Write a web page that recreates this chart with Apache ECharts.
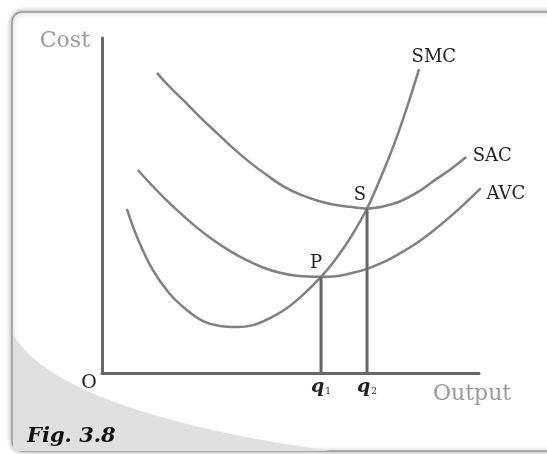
<!DOCTYPE html>
<html>
<head>
<meta charset="utf-8">
<script src="https://cdn.jsdelivr.net/npm/echarts@6/dist/echarts.min.js"></script>
<style>
  html, body { margin: 0; padding: 0; background: #fff; }
  #main { width: 547px; height: 454px; }
</style>
</head>
<body>
<div id="main"></div>
<script>
// output (x) and cost (y) in arbitrary units, 0..100 on both axes
var smcPts = [[6.6, 49.0], [9.3, 40.6], [13.5, 30.7], [18.0, 23.6], [22.5, 18.8], [26.8, 15.5],
  [31.3, 14.0], [35.8, 13.7], [40.1, 14.3], [44.6, 16.4], [49.1, 19.4], [53.3, 23.3],
  [58.1, 28.7], [61.3, 33.0], [64.5, 38.0], [67.4, 43.2], [70.3, 49.1], [73.7, 57.7],
  [77.7, 68.9], [80.9, 79.3], [84.1, 90.7]];
var sacPts = [[14.6, 89.6], [17.2, 86.3], [21.5, 81.5], [26.0, 76.4], [30.5, 71.6], [34.7, 67.2],
  [39.3, 62.8], [43.8, 59.0], [48.0, 55.8], [52.5, 53.3], [57.0, 51.5], [61.3, 50.3],
  [65.8, 49.6], [70.3, 49.1], [74.5, 49.7], [79.0, 51.2], [83.6, 53.9], [87.8, 57.2],
  [92.3, 60.7], [96.6, 64.5]];
var avcPts = [[9.5, 60.6], [12.7, 56.7], [16.2, 52.6], [20.7, 47.8], [25.2, 43.4], [29.4, 39.8],
  [34.0, 36.4], [38.5, 33.6], [42.7, 31.5], [47.2, 29.9], [51.7, 29.0], [58.1, 28.7],
  [61.3, 28.8], [65.8, 29.7], [70.3, 31.1], [74.5, 33.0], [79.0, 35.7], [83.6, 38.9],
  [87.8, 42.4], [92.3, 46.6], [96.8, 51.2], [100.5, 55.2]];
var q1 = 58.1, q2 = 70.3;   // outputs at P and S
var costP = 28.7, costS = 49.1;

var curveColor = '#808080';
var axisColor = '#666';
var serif = '"DejaVu Serif", "Liberation Serif", serif';

function withEndLabel(pts, text, offset) {
  return pts.map(function (p, i) {
    if (i < pts.length - 1) return p;
    return {
      value: p,
      label: { show: true, formatter: text, position: 'right', distance: 0, offset: offset,
        fontFamily: serif, fontSize: 18, color: '#222' }
    };
  });
}

function curve(name, pts, offset) {
  return {
    name: name, type: 'line', smooth: 0.4, clip: false,
    symbol: 'circle', symbolSize: 1, showSymbol: true,
    lineStyle: { color: curveColor, width: 2.5 },
    itemStyle: { color: 'rgba(0,0,0,0)' },
    data: withEndLabel(pts, name, offset)
  };
}

function drop(q, cost, qName, pName, pOffset) {
  return {
    type: 'line', symbol: 'circle', symbolSize: 1, clip: false,
    lineStyle: { color: axisColor, width: 3 },
    itemStyle: { color: 'rgba(0,0,0,0)' },
    data: [
      { value: [q, 0], label: { show: true, position: 'bottom', distance: 4,
          formatter: '{a|q}{b|' + qName + '}',
          rich: {
            a: { fontFamily: serif, fontStyle: 'italic', fontWeight: 'bold', fontSize: 19, color: '#222' },
            b: { fontFamily: serif, fontSize: 9, color: '#222', verticalAlign: 'bottom', padding: [7, 0, 0, 1] }
          } } },
      { value: [q, cost], label: { show: true, position: 'top', distance: 4, offset: pOffset,
          formatter: pName, fontFamily: serif, fontSize: 18, color: '#222' } }
    ]
  };
}

// light swoosh in the lower left corner (quadratic curve sampled into a polygon)
var swoosh = [];
for (var t = 0; t <= 1.0001; t += 0.05) {
  swoosh.push([
    (1 - t) * (1 - t) * 13 + 2 * (1 - t) * t * 60 + t * t * 330,
    (1 - t) * (1 - t) * 335 + 2 * (1 - t) * t * 412 + t * t * 451
  ]);
}
swoosh.push([13, 451]);

var chart = echarts.init(document.getElementById('main'));
chart.setOption({
  animation: false,
  backgroundColor: '#fff',
  grid: { left: 102, right: 68, top: 38, bottom: 81 },
  xAxis: {
    type: 'value', min: 0, max: 100,
    axisLine: { show: true, lineStyle: { color: axisColor, width: 3 } },
    axisTick: { show: false }, axisLabel: { show: false }, splitLine: { show: false }
  },
  yAxis: {
    type: 'value', min: 0, max: 100,
    axisLine: { show: true, lineStyle: { color: axisColor, width: 3 } },
    axisTick: { show: false }, axisLabel: { show: false }, splitLine: { show: false }
  },
  graphic: [
    { type: 'rect', z: -10, shape: { x: 12, y: 12, width: 560, height: 439, r: 10 },
      style: { fill: '#fff', stroke: '#9a9a9a', lineWidth: 1.5,
        shadowBlur: 5, shadowColor: 'rgba(0,0,0,0.35)' } },
    { type: 'polygon', z: -9, shape: { points: swoosh }, style: { fill: '#e0e0e0' } },
    { type: 'text', x: 90, y: 41, style: { text: 'Cost', font: '22px ' + serif, fill: '#9a9a9a',
        align: 'right', verticalAlign: 'middle' } },
    { type: 'text', x: 433, y: 394, style: { text: 'Output', font: '22px ' + serif, fill: '#9a9a9a',
        align: 'left', verticalAlign: 'middle' } },
    { type: 'text', x: 89, y: 383, style: { text: 'O', font: '19px ' + serif, fill: '#222',
        align: 'center', verticalAlign: 'middle' } },
    { type: 'text', x: 27, y: 437, style: { text: 'Fig. 3.8', font: 'italic bold 21px ' + serif, fill: '#111',
        align: 'left', verticalAlign: 'middle' } }
  ],
  series: [
    curve('SMC', smcPts, [-8, -12]),
    curve('SAC', sacPts, [6, -1]),
    curve('AVC', avcPts, [5, 6]),
    drop(q1, costP, '1', 'P', [-5, 0]),
    drop(q2, costS, '2', 'S', [-7, 0])
  ]
});
</script>
</body>
</html>
